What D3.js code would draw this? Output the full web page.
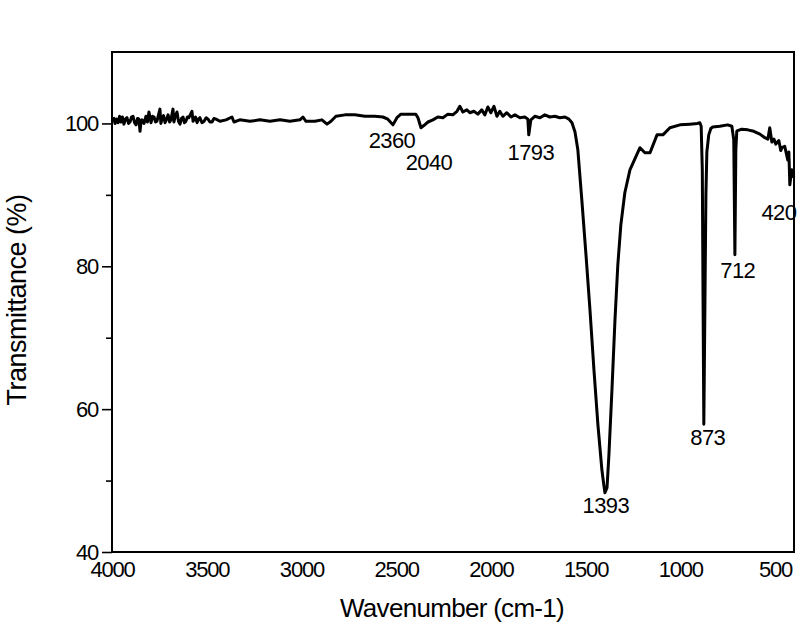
<!DOCTYPE html>
<html>
<head>
<meta charset="utf-8">
<script src="https://cdn.jsdelivr.net/npm/d3@7"></script>
<style>
  body { margin: 0; background: #fff; }
  svg { display: block; font-family: "Liberation Sans", Arial, sans-serif; }
</style>
</head>
<body>
<svg id="chart" width="800" height="626"></svg>
<script>
// FTIR spectrum
const wavenumber = [
  4000, 3989, 3984, 3976, 3968, 3960, 3953, 3945, 3937, 3929, 3921, 3913, 3905, 3897, 3889, 3881,
  3873, 3865, 3858, 3852, 3847, 3842, 3831, 3821, 3813, 3805, 3794, 3786, 3778, 3770, 3763, 3747,
  3742, 3736, 3728, 3720, 3712, 3704, 3696, 3689, 3678, 3673, 3668, 3657, 3649, 3641, 3633, 3625,
  3618, 3610, 3602, 3594, 3578, 3572, 3567, 3559, 3551, 3543, 3536, 3525, 3514, 3503, 3493, 3483,
  3472, 3462, 3451, 3430, 3398, 3367, 3356, 3325, 3272, 3219, 3166, 3113, 3061, 3008,
  2992, 2976, 2929, 2892, 2865, 2844, 2818, 2770, 2718, 2665, 2612, 2570, 2544, 2517, 2496, 2475,
  2427, 2396, 2385, 2369, 2354, 2332, 2306, 2280, 2253, 2227, 2201, 2179, 2164, 2148, 2127, 2111,
  2090, 2069, 2048, 2032, 2016, 2000, 1984, 1968, 1953, 1937, 1916, 1894, 1873, 1847, 1821, 1805,
  1800, 1789, 1768, 1741, 1715, 1689, 1662, 1636, 1609, 1588, 1572, 1556, 1541, 1520, 1498, 1477,
  1456, 1435, 1414, 1404, 1398, 1387, 1377, 1361, 1345, 1330, 1314, 1293, 1266, 1234, 1213, 1187,
  1160, 1123, 1092, 1055, 1002, 950, 910, 897, 890, 884, 880, 876, 870, 865, 860, 850,
  839, 829, 792, 750, 728, 718, 712, 707, 702, 697, 676, 644, 612, 580, 554, 538,
  528, 517, 506, 496, 480, 470, 464, 449, 433, 427, 422, 412, 401
];
const transmittance = [
  100.3, 100.7, 100.0, 100.6, 100.1, 101.0, 100.2, 100.9, 99.9, 100.6, 100.8, 100.0, 100.2, 100.9, 101.0, 100.1,
  99.8, 100.7, 100.6, 98.9, 100.2, 100.5, 100.0, 101.0, 100.2, 101.6, 100.1, 101.0, 100.9, 100.2, 100.3, 102.0,
  100.0, 100.6, 101.1, 100.1, 100.6, 101.2, 100.2, 100.5, 102.0, 100.2, 100.8, 101.6, 100.3, 99.9, 100.7, 100.9,
  100.1, 100.3, 100.9, 100.8, 101.7, 100.3, 100.5, 100.9, 100.1, 100.6, 100.8, 100.1, 100.3, 100.8, 100.6, 100.2,
  100.2, 100.7, 100.6, 100.3, 100.5, 100.9, 100.2, 100.5, 100.3, 100.5, 100.3, 100.5, 100.3, 100.5,
  100.9, 100.3, 100.3, 100.5, 99.9, 100.3, 101.0, 101.2, 101.2, 101.0, 101.0, 100.9, 100.6, 99.8, 100.8, 101.3,
  101.3, 101.3, 100.8, 99.4, 99.7, 100.2, 100.5, 100.9, 100.8, 101.3, 101.2, 101.7, 102.4, 101.6, 101.9, 101.5,
  101.7, 101.3, 101.9, 101.2, 102.3, 101.5, 102.4, 101.0, 101.7, 101.0, 101.5, 100.9, 101.2, 100.8, 100.9, 100.6,
  98.4, 100.5, 101.0, 100.8, 101.2, 100.9, 101.0, 100.8, 100.9, 100.6, 100.1, 98.8, 96.3, 89.3, 81.6, 73.9,
  65.5, 57.8, 51.5, 49.4, 48.3, 49.0, 53.6, 62.7, 72.5, 80.2, 85.8, 90.3, 93.5, 95.4, 96.6, 95.9,
  95.9, 98.4, 98.4, 99.4, 99.8, 99.9, 100.0, 100.1, 99.6, 93.5, 75.0, 57.9, 75.3, 90.0, 96.0, 98.4,
  99.3, 99.5, 99.6, 99.8, 99.6, 97.7, 81.6, 96.3, 98.9, 99.0, 99.2, 99.1, 98.9, 98.5, 98.0, 97.8,
  99.4, 97.4, 97.8, 97.1, 97.6, 96.2, 96.6, 96.8, 94.9, 96.0, 91.4, 93.5, 92.4
];

const yTicks = [40, 60, 80, 100];
const yMinorTicks = [50, 70, 90];
const xTicks = [4000, 3500, 3000, 2500, 2000, 1500, 1000, 500];

const peakLabels = ['2360', '2040', '1793', '1393', '873', '712', '420'];
const peakLabelX = [2522, 2327, 1789, 1393, 855, 697, 480];
const peakLabelY = [96.6, 93.5, 94.9, 45.5, 55.0, 78.4, 86.5];

const svg = d3.select('#chart');
const width = 800, height = 626;
const margin = { top: 52, right: 6, bottom: 74, left: 112 };
const innerWidth = width - margin.left - margin.right;
const innerHeight = height - margin.top - margin.bottom;

const xScale = d3.scaleLinear().domain([4000, 400]).range([0, innerWidth]);
const yScale = d3.scaleLinear().domain([40, 110]).range([innerHeight, 0]);

const g = svg.append('g').attr('transform', `translate(${margin.left},${margin.top})`);

// frame
g.append('rect')
  .attr('width', innerWidth)
  .attr('height', innerHeight)
  .attr('fill', 'none')
  .attr('stroke', '#000')
  .attr('stroke-width', 2);

// minor y ticks, no labels
const minor = g.append('g')
  .call(d3.axisLeft(yScale).tickValues(yMinorTicks).tickSize(6))
  .call(a => a.select('.domain').remove());
minor.selectAll('text').remove();
minor.selectAll('line').attr('stroke-width', 1.6);

const yAxis = g.append('g')
  .call(d3.axisLeft(yScale).tickValues(yTicks).tickSize(10).tickPadding(4))
  .call(a => a.select('.domain').remove());
yAxis.selectAll('line').attr('stroke-width', 1.6);
yAxis.selectAll('text')
  .style('font-size', '22px')
  .style('letter-spacing', '-1.2px')
  .attr('fill', '#000')
  .attr('font-family', '"Liberation Sans", Arial, sans-serif');

const xAxis = g.append('g')
  .attr('transform', `translate(0,${innerHeight})`)
  .call(d3.axisBottom(xScale).tickValues(xTicks).tickSize(0).tickPadding(9).tickFormat(d3.format('d')))
  .call(a => a.select('.domain').remove());
xAxis.selectAll('text')
  .style('font-size', '22px')
  .style('letter-spacing', '-1.2px')
  .attr('fill', '#000')
  .attr('font-family', '"Liberation Sans", Arial, sans-serif');

// axis titles
svg.append('text')
  .attr('x', 452)
  .attr('y', 617)
  .attr('text-anchor', 'middle')
  .style('font-size', '26px')
  .style('letter-spacing', '-0.7px')
  .text('Wavenumber (cm-1)');

svg.append('text')
  .attr('transform', 'rotate(-90)')
  .attr('x', -300)
  .attr('y', 26)
  .attr('text-anchor', 'middle')
  .style('font-size', '27px')
  .style('letter-spacing', '-0.5px')
  .text('Transmittance (%)');

// spectrum
const points = wavenumber.map((w, i) => [w, transmittance[i]]);
const line = d3.line()
  .x(d => xScale(d[0]))
  .y(d => yScale(d[1]));

g.append('path')
  .datum(points)
  .attr('fill', 'none')
  .attr('stroke', '#000')
  .attr('stroke-width', 3)
  .attr('stroke-linejoin', 'round')
  .attr('d', line);

// peak labels
g.selectAll('.peak')
  .data(peakLabels)
  .enter()
  .append('text')
  .attr('class', 'peak')
  .attr('x', (d, i) => xScale(peakLabelX[i]))
  .attr('y', (d, i) => yScale(peakLabelY[i]))
  .attr('text-anchor', 'middle')
  .style('font-size', '22px')
  .style('letter-spacing', '-0.6px')
  .text(d => d);
</script>
</body>
</html>
